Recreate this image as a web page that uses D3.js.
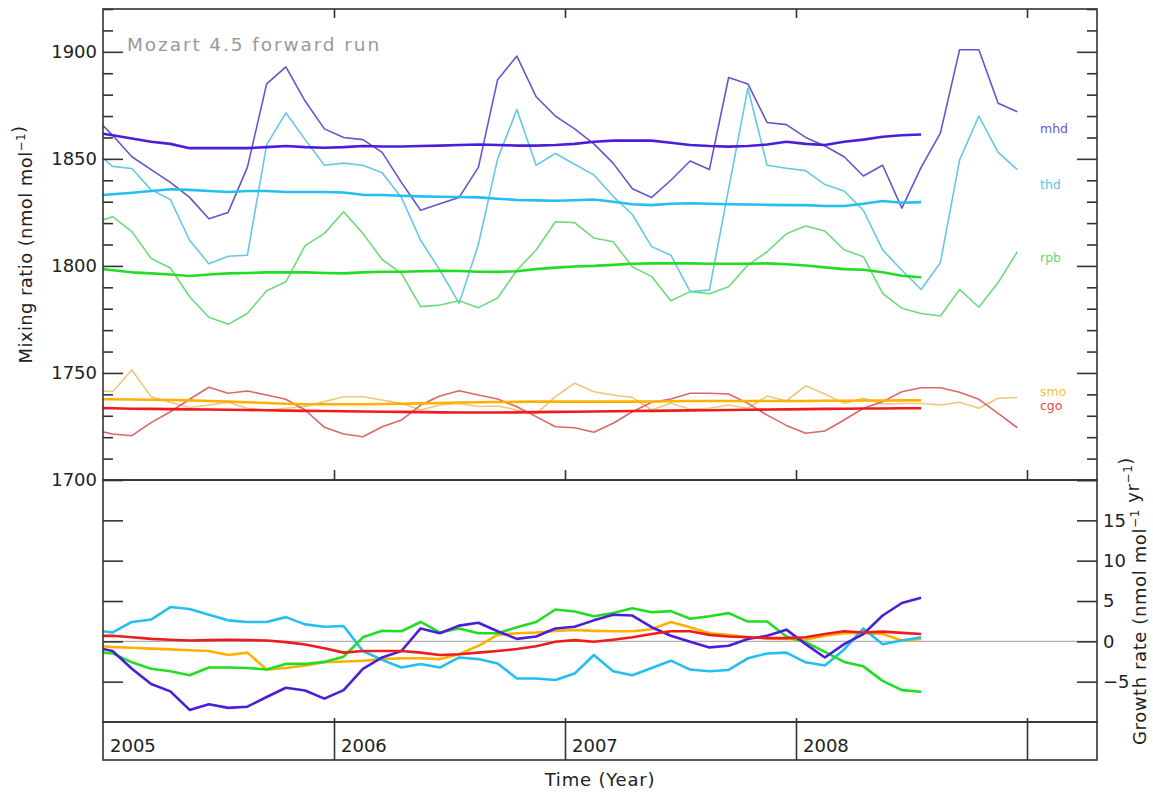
<!DOCTYPE html>
<html><head><meta charset="utf-8">
<script src="https://cdn.jsdelivr.net/npm/d3@7"></script>
<style>
body{margin:0;background:#fff;}
svg{display:block;font-family:"DejaVu Sans",sans-serif;}
</style></head>
<body><svg id="c" width="1153" height="793"></svg>
<script>
// ---------- DATA ----------
const stations = ["mhd","thd","rpb","smo","cgo"];
const yearTicks = [2005,2006,2007,2008];
const upperTicks = [1700,1750,1800,1850,1900];
const lowerTicks = [-5,0,5,10,15];
// monthly series begin at mid-Dec 2004 (one value per month)
const firstMonth = 2004 + 11.5/12;

const mhdMonthly = [1870,1861,1851,1845,1839,1832,1822,1825,1846,1885,1893,1877,1864,1860,1859,1853,1839,1826,1829,1832,1846,1887,1898,1879,1870,1864,1857,1848,1836,1832,1840,1849,1845,1888,1885,1867,1866,1860,1856,1851,1842,1847,1827,1846,1862,1901,1901,1876,1872];
const thdMonthly = [1854,1846.5,1845.5,1835.5,1831,1812,1801,1804.5,1805,1856.5,1871.5,1859,1847,1848,1847,1843.5,1832,1812,1798,1782.5,1810,1850,1873,1847,1852.5,1847.5,1842.5,1832.5,1824,1809,1805,1788,1788.7,1836,1883,1847,1845.6,1844.5,1838,1835,1826,1807.5,1798,1789,1801.5,1849.5,1870,1853,1845];
const rpbMonthly = [1820,1823,1816,1803.5,1799,1785.6,1776,1772.7,1777.8,1788.4,1792.6,1809.5,1815.2,1825.3,1815.2,1803,1796.5,1781,1781.7,1783.7,1780.5,1785,1798,1807.4,1820.6,1820.2,1813,1811.3,1799.6,1795,1783.7,1788,1787,1790.3,1800.4,1806.6,1815,1818.6,1816.3,1807.5,1804.3,1787.2,1780.2,1777.8,1776.6,1789,1780.7,1792.2,1806.6];
const smoMonthly = [1742,1741.2,1751.4,1738.9,1736.3,1733.9,1735,1736.3,1733.5,1732.7,1733.5,1734.3,1736.6,1738.9,1738.9,1737.4,1735.8,1732.7,1735,1735.8,1734.3,1734.6,1732.7,1730.8,1738.9,1745.2,1741.2,1739.7,1738.6,1732.7,1735.8,1733,1733.5,1735,1733.5,1739.2,1736.9,1744,1740.2,1735.8,1738.2,1735.5,1735.7,1735.7,1735,1736.3,1733.5,1738.2,1738.5];
const cgoMonthly = [1723.5,1721.5,1720.7,1726.8,1731.9,1737.7,1743.3,1740.5,1741.6,1739.7,1737.7,1732.7,1724.6,1721.5,1720.2,1724.9,1728,1735,1739.2,1741.7,1739.7,1737.8,1734.2,1729.6,1724.9,1724.4,1722.3,1726.5,1731.9,1736.3,1737.8,1740.5,1740.5,1740.2,1735.8,1730.3,1725.5,1721.8,1722.9,1728,1733.5,1736.6,1741.2,1743.1,1743.1,1741,1737.7,1731.1,1724.4];

const mhdTrend = [1862.5,1861,1859.5,1858,1857,1855,1855,1855,1855,1855.5,1856,1855.5,1855.2,1855.5,1856,1855.8,1855.8,1856,1856.2,1856.5,1856.7,1856.5,1856.2,1856.2,1856.5,1857,1858,1858.5,1858.5,1858.5,1857.5,1856.5,1856,1855.7,1856,1856.7,1858,1857,1856.5,1858,1859,1860.3,1861,1861.4];
const thdTrend = [1832.8,1833.5,1834.2,1835,1835.8,1835.5,1835,1834.5,1835,1835,1834.5,1834.5,1834.5,1834.3,1833.2,1833.1,1832.8,1832.5,1832.3,1832.2,1832,1831.4,1830.8,1830.6,1830.4,1830.7,1831,1830,1828.8,1828.4,1829,1829.3,1829,1828.8,1828.7,1828.5,1828.4,1828.4,1828,1828,1829,1830.3,1829.5,1829.8];
const rpbTrend = [1799,1798,1797,1796.5,1796,1795.3,1796,1796.5,1796.7,1797,1797,1797,1796.7,1796.5,1797,1797.3,1797.3,1797.5,1797.7,1797.6,1797.3,1797.2,1797.5,1798.5,1799.2,1799.7,1800,1800.5,1801,1801.2,1801.2,1801.2,1801,1801,1801,1801.2,1800.8,1800.2,1799.3,1798.5,1798.2,1797,1795.4,1794.7];
const smoTrend = [1737.8,1737.7,1737.6,1737.5,1737.4,1737.2,1736.9,1736.6,1736.3,1736,1735.6,1735.4,1735.4,1735.4,1735.4,1735.5,1735.6,1735.8,1736,1736.2,1736.3,1736.4,1736.5,1736.6,1736.6,1736.6,1736.6,1736.6,1736.6,1736.7,1736.8,1736.9,1736.9,1736.9,1736.9,1736.9,1736.9,1736.9,1737,1737,1737.1,1737.1,1737.2,1737.2];
const cgoTrend = [1733.6,1733.5,1733.3,1733.2,1733.1,1733,1732.9,1732.8,1732.7,1732.6,1732.4,1732.3,1732.2,1732.1,1732,1731.9,1731.8,1731.7,1731.6,1731.5,1731.5,1731.5,1731.6,1731.7,1731.8,1731.9,1732,1732.1,1732.2,1732.3,1732.4,1732.5,1732.6,1732.7,1732.8,1732.9,1733,1733.1,1733.2,1733.3,1733.4,1733.4,1733.5,1733.5];

const mhdGrowth = [-0.7,-1.2,-3.4,-5.3,-6.2,-8.5,-7.8,-8.25,-8.1,-6.9,-5.75,-6.1,-7.1,-6.05,-3.4,-2.0,-1.2,1.6,1.0,1.95,2.3,1.25,0.3,0.6,1.6,1.8,2.6,3.3,3.2,1.75,0.7,-0.05,-0.75,-0.55,0.3,0.7,1.45,-0.35,-2.0,-0.35,0.9,3.2,4.75,5.4];
const thdGrowth = [1.4,1.1,2.4,2.7,4.25,4.0,3.3,2.6,2.4,2.4,3.0,2.1,1.8,1.9,-1.2,-2.3,-3.25,-2.8,-3.25,-2.0,-2.2,-2.75,-4.6,-4.6,-4.8,-4.0,-1.7,-3.7,-4.2,-3.3,-2.4,-3.5,-3.7,-3.55,-2.1,-1.5,-1.4,-2.6,-3.0,-1.0,1.6,-0.35,0.1,0.5];
const rpbGrowth = [-1.3,-1.5,-2.6,-3.4,-3.7,-4.2,-3.25,-3.25,-3.3,-3.5,-2.8,-2.8,-2.55,-1.9,0.5,1.3,1.25,2.4,1.1,1.6,1.0,1.0,1.75,2.4,3.95,3.7,3.1,3.5,4.1,3.6,3.75,2.8,3.1,3.5,2.45,2.45,0.6,-0.1,-1.3,-2.55,-3.1,-4.9,-6.05,-6.25];
const smoGrowth = [-0.55,-0.7,-0.8,-0.9,-1.0,-1.1,-1.2,-1.7,-1.4,-3.5,-3.3,-3.0,-2.6,-2.5,-2.4,-2.2,-2.1,-2.1,-2.2,-1.6,-0.55,0.8,1.0,1.1,1.3,1.4,1.3,1.25,1.25,1.5,2.4,1.75,1.0,0.8,0.5,0.4,0.3,0.2,0.7,1.0,1.0,0.9,0.1,0.3];
const cgoGrowth = [0.65,0.7,0.5,0.3,0.2,0.1,0.15,0.2,0.15,0.1,-0.1,-0.4,-0.85,-1.4,-1.2,-1.2,-1.2,-1.4,-1.7,-1.6,-1.4,-1.2,-0.96,-0.6,-0.05,0.15,-0.05,0.2,0.5,0.9,1.25,1.25,0.8,0.6,0.5,0.4,0.4,0.5,0.9,1.25,1.1,1.2,1.05,0.9];

const thinColors  = {mhd:"#6a52cf", thd:"#66c8e2", rpb:"#6fda7c", smo:"#eec77c", cgo:"#dd6666"};
const thickColors = {mhd:"#4b1fd9", thd:"#22bff0", rpb:"#22dd22", smo:"#ffb000", cgo:"#ee1c1c"};
const labelColors = {mhd:"#6a52d6", thd:"#5ec7e4", rpb:"#66d872", smo:"#f2c04c", cgo:"#e04a4a"};
const monthly = {mhd:mhdMonthly, thd:thdMonthly, rpb:rpbMonthly, smo:smoMonthly, cgo:cgoMonthly};
const trend   = {mhd:mhdTrend, thd:thdTrend, rpb:rpbTrend, smo:smoTrend, cgo:cgoTrend};
const growth  = {mhd:mhdGrowth, thd:thdGrowth, rpb:rpbGrowth, smo:smoGrowth, cgo:cgoGrowth};

// ---------- LAYOUT ----------
const L = 103, R = 1097, T = 9, MID = 480, LB = 722, SB = 760;
const svg = d3.select("#c");
const x = d3.scaleLinear().domain([2005, 2005 + (R-L)/231]).range([L, R]);
const y1 = d3.scaleLinear().domain([1700, 1920]).range([MID, T]);
const y2 = d3.scaleLinear().domain([-10, 20]).range([LB, MID]);
const tOf = i => firstMonth + i/12;

const defs = svg.append("defs");
defs.append("clipPath").attr("id","clipU").append("rect").attr("x",L).attr("y",T).attr("width",R-L).attr("height",MID-T);
defs.append("clipPath").attr("id","clipL").append("rect").attr("x",L).attr("y",MID).attr("width",R-L).attr("height",LB-MID);

const axisCol = "#333";
// zero line
svg.append("line").attr("x1",L).attr("x2",R).attr("y1",y2(0)).attr("y2",y2(0)).attr("stroke","#b0b0b0").attr("stroke-width",1.2);

// upper lines
const gU = svg.append("g").attr("clip-path","url(#clipU)");
const line1 = d3.line().x((d,i)=>x(tOf(i))).y(d=>y1(d));
stations.forEach(s=>{
  gU.append("path").datum(monthly[s]).attr("d",line1).attr("fill","none")
    .attr("stroke",thinColors[s]).attr("stroke-width",1.6).attr("stroke-linejoin","round");
});
stations.slice().reverse().forEach(s=>{
  gU.append("path").datum(trend[s]).attr("d",line1).attr("fill","none")
    .attr("stroke",thickColors[s]).attr("stroke-width",2.6).attr("stroke-linejoin","round");
});
// lower lines
const gL = svg.append("g").attr("clip-path","url(#clipL)");
const line2 = d3.line().x((d,i)=>x(tOf(i))).y(d=>y2(d));
["smo","thd","rpb","mhd","cgo"].forEach(s=>{
  gL.append("path").datum(growth[s]).attr("d",line2).attr("fill","none")
    .attr("stroke",thickColors[s]).attr("stroke-width",2.6).attr("stroke-linejoin","round");
});

// frames
[[T,MID],[MID,LB],[LB,SB]].forEach(([a,b])=>{
  svg.append("rect").attr("x",L).attr("y",a).attr("width",R-L).attr("height",b-a)
    .attr("fill","none").attr("stroke",axisCol).attr("stroke-width",1.6);
});

function styleAxis(g){ g.select(".domain").remove(); g.selectAll(".tick line").attr("stroke",axisCol).attr("stroke-width",1.6); }

// upper y axes
const minorU = d3.range(1710,1921,10).filter(v=>v%50!==0);
svg.append("g").attr("transform",`translate(${L},0)`)
  .call(d3.axisLeft(y1).tickValues(upperTicks).tickSize(-20).tickPadding(6).tickFormat(d3.format("d")))
  .call(styleAxis).selectAll("text").attr("font-size",18).attr("fill","#222").attr("font-family","DejaVu Sans");
svg.append("g").attr("transform",`translate(${L},0)`)
  .call(d3.axisLeft(y1).tickValues(minorU).tickSize(-10).tickFormat(""))
  .call(styleAxis);
svg.append("g").attr("transform",`translate(${R},0)`)
  .call(d3.axisRight(y1).tickValues(upperTicks.concat([1700])).tickSize(-20).tickFormat(""))
  .call(styleAxis);
svg.append("g").attr("transform",`translate(${R},0)`)
  .call(d3.axisRight(y1).tickValues(minorU).tickSize(-10).tickFormat(""))
  .call(styleAxis);

// lower y axes
svg.append("g").attr("transform",`translate(${L},0)`)
  .call(d3.axisLeft(y2).tickValues(lowerTicks).tickSize(-20).tickFormat(""))
  .call(styleAxis);
svg.append("g").attr("transform",`translate(${R},0)`)
  .call(d3.axisRight(y2).tickValues(lowerTicks).tickSize(-20).tickPadding(6).tickFormat(d3.format("d")))
  .call(styleAxis).selectAll("text").attr("font-size",18).attr("fill","#222").attr("font-family","DejaVu Sans");

// year ticks
const yrT = [2006,2007,2008,2009];
svg.append("g").attr("transform",`translate(0,${T})`)
  .call(d3.axisTop(x).tickValues(yrT).tickSize(-9).tickFormat("")).call(styleAxis);
svg.append("g").attr("transform",`translate(0,${MID})`)
  .call(d3.axisBottom(x).tickValues(yrT).tickSize(-10).tickFormat("")).call(styleAxis);
svg.append("g").attr("transform",`translate(0,${SB})`)
  .call(d3.axisBottom(x).tickValues(yrT).tickSize(-(SB-LB+4)).tickFormat("")).call(styleAxis);
svg.append("g").selectAll("text").data(yearTicks).join("text")
  .attr("x",d=>x(d)+7).attr("y",752).attr("font-size",18).attr("fill","#222").text(d=>d);

// titles
svg.append("text").attr("x",127).attr("y",51).attr("font-size",18.5).attr("fill","#9a9a9a")
  .attr("letter-spacing",1.9).text("Mozart 4.5 forward run");
svg.append("text").attr("x",600).attr("y",786).attr("text-anchor","middle").attr("font-size",18)
  .attr("letter-spacing",0.8).attr("fill","#222").text("Time (Year)");

function unitLabel(parent, parts){
  parts.forEach(p=>{
    if(p.sup){ parent.append("tspan").attr("font-size",12).attr("dy",-7).text(p.t);
               parent.append("tspan").attr("font-size",18).attr("dy",7).text(""); }
    else parent.append("tspan").text(p.t);
  });
}
const yl = svg.append("text").attr("transform",`translate(32,${(T+MID)/2}) rotate(-90)`)
  .attr("text-anchor","middle").attr("font-size",18).attr("letter-spacing",0.4).attr("fill","#222");
unitLabel(yl,[{t:"Mixing ratio (nmol mol"},{t:"−1",sup:true},{t:")"}]);
const yr = svg.append("text").attr("transform",`translate(1146,${(MID+LB)/2}) rotate(-90)`)
  .attr("text-anchor","middle").attr("font-size",18).attr("letter-spacing",0.6).attr("fill","#222");
unitLabel(yr,[{t:"Growth rate (nmol mol"},{t:"−1",sup:true},{t:" yr"},{t:"−1",sup:true},{t:")"}]);

// station labels
const labY = {mhd:132.5, thd:189, rpb:262, smo:395.5, cgo:410};
stations.forEach(s=>{
  svg.append("text").attr("x",1040).attr("y",labY[s]).attr("font-size",12.5)
    .attr("fill",labelColors[s]).text(s);
});
</script></body></html>
